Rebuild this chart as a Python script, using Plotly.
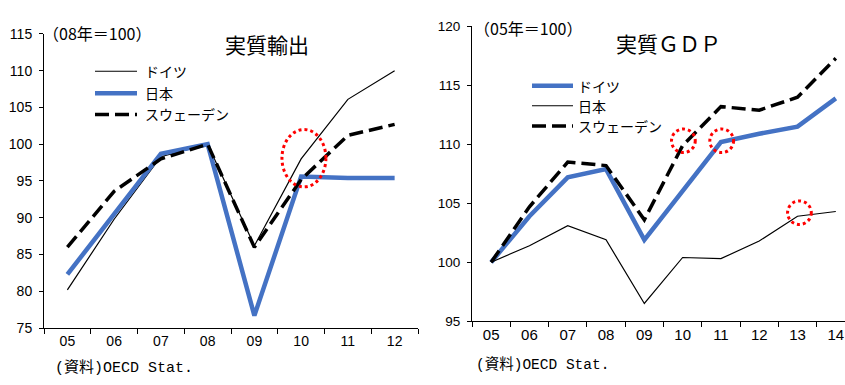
import plotly.graph_objects as go

# ---- data -------------------------------------------------------------
years_exp = ["05", "06", "07", "08", "09", "10", "11", "12"]
exp_germany = [80.2, 89.8, 98.3, 100.0, 86.2, 98.0, 106.1, 110.0]
exp_japan = [82.3, 90.4, 98.7, 100.0, 76.7, 95.6, 95.4, 95.4]
exp_sweden = [86.0, 93.6, 98.0, 100.0, 86.0, 95.2, 101.2, 102.7]

years_gdp = ["05", "06", "07", "08", "09", "10", "11", "12", "13", "14"]
gdp_germany = [100.0, 103.9, 107.2, 107.9, 101.9, 106.0, 110.2, 110.9, 111.5, 113.9]
gdp_japan = [100.0, 101.4, 103.1, 101.9, 96.5, 100.4, 100.3, 101.8, 103.9, 104.3]
gdp_sweden = [100.0, 104.7, 108.5, 108.2, 103.6, 109.9, 113.2, 112.9, 114.0, 117.3]

names = ["ドイツ", "日本", "スウェーデン"]

# ---- styles -----------------------------------------------------------
W, H = 845, 385
BLUE = "#4472C4"
thin = dict(color="black", width=1.2)
thick = dict(color=BLUE, width=4.5)
dashed = dict(color="black", width=3.5, dash="14px,6px")

CJK = "Noto Sans CJK JP"
NUM = "Liberation Sans"
MONO = "Liberation Mono, Noto Sans CJK JP"


def fx(p):
    return p / W


def fy(p):
    return 1 - p / H


fig = go.Figure()

# left panel: real exports
fig.add_trace(go.Scatter(x=years_exp, y=exp_germany, mode="lines", line=thin,
                         name=names[0], xaxis="x", yaxis="y"))
fig.add_trace(go.Scatter(x=years_exp, y=exp_japan, mode="lines", line=thick,
                         name=names[1], xaxis="x", yaxis="y"))
fig.add_trace(go.Scatter(x=years_exp, y=exp_sweden, mode="lines", line=dashed,
                         name=names[2], xaxis="x", yaxis="y"))

# right panel: real GDP
fig.add_trace(go.Scatter(x=years_gdp, y=gdp_germany, mode="lines", line=thick,
                         name=names[0], xaxis="x2", yaxis="y2"))
fig.add_trace(go.Scatter(x=years_gdp, y=gdp_japan, mode="lines", line=thin,
                         name=names[1], xaxis="x2", yaxis="y2"))
fig.add_trace(go.Scatter(x=years_gdp, y=gdp_sweden, mode="lines", line=dashed,
                         name=names[2], xaxis="x2", yaxis="y2"))

common_x = dict(type="category", showline=True, linecolor="black", linewidth=1,
                ticks="outside", tickson="boundaries", ticklen=5, tickcolor="black",
                showgrid=False, zeroline=False, fixedrange=True)
common_y = dict(showline=True, linecolor="black", linewidth=1, ticks="outside",
                ticklen=4, tickcolor="black", showgrid=False, zeroline=False,
                dtick=5, fixedrange=True, ticklabelstandoff=4)

shapes = []
annotations = []


# legends: sample line + label
def legend(x0, x1, xt, rows, styles, size):
    for yrow, st, nm in zip(rows, styles, names):
        shapes.append(dict(type="line", xref="paper", yref="paper",
                           x0=fx(x0), x1=fx(x1), y0=fy(yrow), y1=fy(yrow),
                           line=dict(color=st["color"], width=st["width"],
                                     dash=st.get("dash", "solid"))))
        annotations.append(dict(x=fx(xt), y=fy(yrow), text=nm, xanchor="left",
                                font=dict(family=CJK, size=size)))


legend(95, 137, 143, [66, 89, 111], [thin, thick, dashed], 14)
legend(532, 573, 576, [81, 102, 123], [thick, thin, dashed], 14)

# red dotted highlight circles
ring = dict(color="red", width=3, dash="dot")
shapes.append(dict(type="circle", xref="x", yref="y", x0=4.59, x1=5.53,
                   y0=94.2, y1=102.0, line=ring))
shapes.append(dict(type="circle", xref="x2", yref="y2", x0=4.71, x1=5.33,
                   y0=109.3, y1=111.3, line=ring))
shapes.append(dict(type="circle", xref="x2", yref="y2", x0=5.71, x1=6.33,
                   y0=109.3, y1=111.3, line=ring))
shapes.append(dict(type="circle", xref="x2", yref="y2", x0=7.74, x1=8.36,
                   y0=103.2, y1=105.2, line=ring))

# titles, units, sources
annotations += [
    dict(x=fx(267), y=fy(38), text="実質輸出", font=dict(family=CJK, size=21)),
    dict(x=fx(668), y=fy(37), text="実質ＧＤＰ", font=dict(family=CJK, size=21)),
    dict(x=fx(97), y=fy(26), text="（08年＝100）", font=dict(family=CJK, size=16)),
    dict(x=fx(528), y=fy(21), text="（05年＝100）", font=dict(family=CJK, size=16)),
    dict(x=fx(53), y=fy(376), text="(資料)OECD Stat.", xanchor="left",
         font=dict(family=MONO, size=15)),
    dict(x=fx(474), y=fy(372), text="(資料)OECD Stat.", xanchor="left",
         font=dict(family=MONO, size=14.5)),
]
for a in annotations:
    a.setdefault("xref", "paper")
    a.setdefault("yref", "paper")
    a.setdefault("showarrow", False)
    a.setdefault("yanchor", "middle")
    a.setdefault("xanchor", "center")
    a["font"].setdefault("color", "black")

fig.update_layout(
    width=W, height=H,
    margin=dict(l=0, r=0, t=0, b=0),
    paper_bgcolor="white", plot_bgcolor="white",
    font=dict(family=NUM, size=14, color="black"),
    showlegend=False,
    xaxis=dict(common_x, domain=[fx(44), fx(418)], range=[-0.5, 7.5],
               anchor="y", tickfont=dict(size=14)),
    yaxis=dict(common_y, domain=[fy(334), fy(27)], range=[75, 115],
               anchor="x", tickfont=dict(size=14)),
    xaxis2=dict(common_x, domain=[fx(472), 1.0], range=[-0.5, 9.24],
                anchor="y2", tickfont=dict(size=15)),
    yaxis2=dict(common_y, domain=[fy(326.7), fy(19.3)], range=[95, 120],
                anchor="x2", tickfont=dict(size=13.5)),
    shapes=shapes,
    annotations=annotations,
)

fig.write_html("out.html")
